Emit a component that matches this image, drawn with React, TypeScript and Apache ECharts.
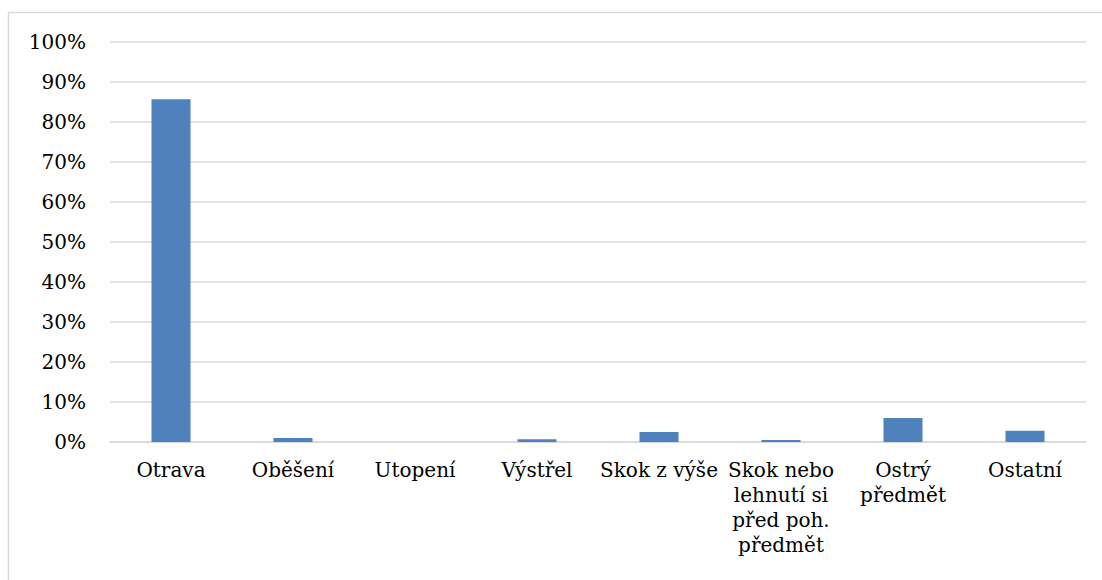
import React, { useEffect, useRef } from "react";
import * as echarts from "echarts";

const categories = [
  "Otrava",
  "Oběšení",
  "Utopení",
  "Výstřel",
  "Skok z výše",
  "Skok nebo\nlehnutí si\npřed poh.\npředmět",
  "Ostrý\npředmět",
  "Ostatní",
];
const values = [85.7, 1.0, 0, 0.7, 2.5, 0.5, 6.0, 2.8];
const yTicks = [0, 10, 20, 30, 40, 50, 60, 70, 80, 90, 100];

export default function App() {
  const ref = useRef<HTMLDivElement>(null);
  useEffect(() => {
    if (!ref.current) return;
    const chart = echarts.init(ref.current, null, { renderer: "svg" });
    const font = "DejaVu Serif";
    chart.setOption({
      animation: false,
      backgroundColor: "#ffffff",
      graphic: [
        {
          type: "polyline",
          shape: { points: [[8.5, 580], [8.5, 12.5], [1102, 12.5]] },
          style: { stroke: "#d9d9d9", lineWidth: 1.5, fill: null },
        },
      ],
      grid: { left: 110, right: 16, top: 42, bottom: 138, containLabel: false },
      xAxis: {
        type: "category",
        data: categories,
        axisLine: { show: true, lineStyle: { color: "#d9d9d9", width: 1.5 } },
        axisTick: { show: false },
        axisLabel: {
          interval: 0,
          color: "#000000",
          fontFamily: font,
          fontSize: 20,
          lineHeight: 25,
          margin: 15,
          align: "center",
        },
      },
      yAxis: {
        type: "value",
        min: yTicks[0],
        max: yTicks[yTicks.length - 1],
        interval: 10,
        axisLine: { show: false },
        axisTick: { show: false },
        splitLine: { lineStyle: { color: "#d9d9d9", width: 1.5 } },
        axisLabel: {
          color: "#000000",
          fontFamily: font,
          fontSize: 20,
          margin: 24,
          formatter: (v: number) => `${v}%`,
        },
      },
      series: [
        {
          type: "bar",
          data: values,
          barWidth: "32%",
          itemStyle: { color: "#4f81bd", borderWidth: 0 },
        },
      ],
    });
    return () => chart.dispose();
  }, []);
  return (
    <div
      ref={ref}
      style={{ position: "absolute", left: 0, top: 0, width: 1102, height: 580 }}
    />
  );
}
